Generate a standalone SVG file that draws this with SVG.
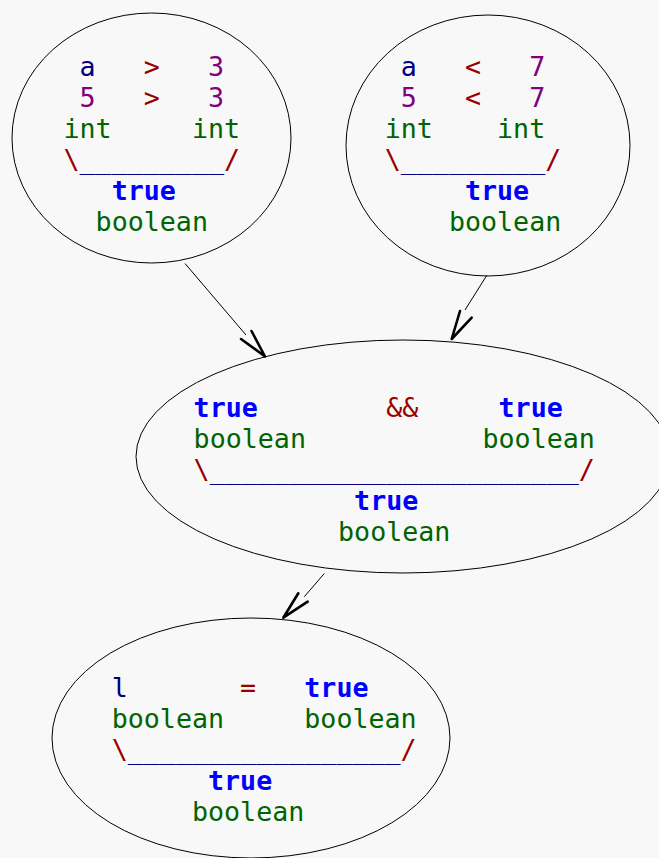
<svg xmlns="http://www.w3.org/2000/svg" width="659" height="858" viewBox="0 0 659 858">
<style>
text{font-family:"DejaVu Sans Mono",monospace;font-size:26.67px}
.v{fill:#000080}.n{fill:#800080}.o{fill:#990000}.t{fill:#006400}.b{fill:#0000ff;font-weight:bold}.u{fill:#000080}
ellipse{fill:none;stroke:#000;stroke-width:1}
.e{stroke:#000;stroke-width:1;fill:none}
.h{stroke:#000;stroke-width:2.6;fill:none;stroke-linecap:round;stroke-linejoin:round}
</style>
<rect width="659" height="858" fill="#f8f8f8"/>
<g id="connectors">
<line class="e" x1="185" y1="263.5" x2="246" y2="335"/>
<polyline class="h" points="241,339 265,356.5 251.5,331"/>
<line class="e" x1="486.7" y1="275.5" x2="465" y2="310"/>
<polyline class="h" points="460,311 451.7,339 471.7,317.7"/>
<line class="e" x1="324.3" y1="573.5" x2="304.3" y2="596.7"/>
<polyline class="h" points="298.3,593.3 283.3,617.7 307.7,601.7"/>
</g>
<g id="node1">
<ellipse cx="151.5" cy="138" rx="139.5" ry="125"/>
<text y="76"><tspan class="v" x="79.55">a</tspan><tspan class="o" x="143.75">&gt;</tspan><tspan class="n" x="207.95">3</tspan></text>
<text y="107"><tspan class="n" x="79.55">5</tspan><tspan class="o" x="143.75">&gt;</tspan><tspan class="n" x="207.95">3</tspan></text>
<text y="138"><tspan class="t" x="63.5">int</tspan><tspan class="t" x="191.9">int</tspan></text>
<text y="169"><tspan class="o" x="63.5">\</tspan><tspan class="u" x="79.55">_________</tspan><tspan class="o" x="224">/</tspan></text>
<text y="200" class="b" x="111.65">true</text>
<text y="231" class="t" x="95.6">boolean</text>
</g>
<g id="node2">
<ellipse cx="488" cy="145.5" rx="142" ry="130.5"/>
<text y="76"><tspan class="v" x="400.75">a</tspan><tspan class="o" x="464.95">&lt;</tspan><tspan class="n" x="529.15">7</tspan></text>
<text y="107"><tspan class="n" x="400.75">5</tspan><tspan class="o" x="464.95">&lt;</tspan><tspan class="n" x="529.15">7</tspan></text>
<text y="138"><tspan class="t" x="384.7">int</tspan><tspan class="t" x="497.05">int</tspan></text>
<text y="169"><tspan class="o" x="384.7">\</tspan><tspan class="u" x="400.75">_________</tspan><tspan class="o" x="545.2">/</tspan></text>
<text y="200" class="b" x="464.95">true</text>
<text y="231" class="t" x="448.9">boolean</text>
</g>
<g id="node3">
<ellipse cx="403" cy="456.5" rx="267" ry="116.5"/>
<text y="417"><tspan class="b" x="193.6">true</tspan><tspan class="o" x="386.2">&amp;&amp;</tspan><tspan class="b" x="498.55">true</tspan></text>
<text y="448"><tspan class="t" x="193.6">boolean</tspan><tspan class="t" x="482.5">boolean</tspan></text>
<text y="479"><tspan class="o" x="193.6">\</tspan><tspan class="u" x="209.65">_______________________</tspan><tspan class="o" x="578.8">/</tspan></text>
<text y="510" class="b" x="354.1">true</text>
<text y="541" class="t" x="338.05">boolean</text>
</g>
<g id="node4">
<ellipse cx="251" cy="738" rx="199" ry="120"/>
<text y="697"><tspan class="v" x="111.7">l</tspan><tspan class="o" x="240.1">=</tspan><tspan class="b" x="304.3">true</tspan></text>
<text y="728"><tspan class="t" x="111.7">boolean</tspan><tspan class="t" x="304.3">boolean</tspan></text>
<text y="759"><tspan class="o" x="111.7">\</tspan><tspan class="u" x="127.75">_________________</tspan><tspan class="o" x="400.6">/</tspan></text>
<text y="790" class="b" x="208">true</text>
<text y="821" class="t" x="191.95">boolean</text>
</g>
</svg>
